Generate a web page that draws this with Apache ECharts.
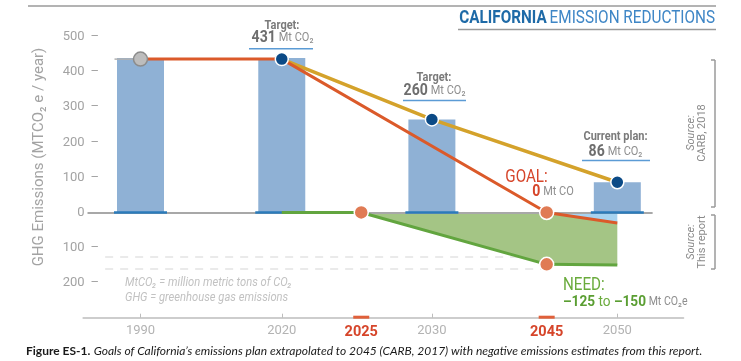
<!DOCTYPE html>
<html><head><meta charset="utf-8">
<script src="https://cdn.jsdelivr.net/npm/echarts@6/dist/echarts.min.js"></script>
<style>html,body{margin:0;padding:0;background:#fff}#c{width:741px;height:361px}</style>
</head><body><div id="c"></div>
<script>
// ---- data ----
const tickYears = ['1990', '2020', '2025', '2030', '2045', '2050'];
const highlightYears = ['2025', '2045'];
const barYears = ['1990', '2020', '2030', '2050'];
const barValues = [440, 440, 265, 86];
const goalYears = ['1990', '2020', '2045', '2050'];
const goalValues = [437, 437, 0, -30];
const planYears = ['2020', '2030', '2050'];
const planValues = [437, 265, 86];
const needYears = ['2020', '2025', '2045', '2050'];
const needValues = [0, 0, -148, -150];
const refLineValues = [-126, -160];
const yMin = -300, yMax = 500, yStep = 100;
// warped time axis: slot index of each tick year (axis is not linear in time)
const yearSlots = [6, 22, 31, 39, 52, 60];
const slotCount = 68;

// ---- build ----
const F = 'Roboto';
const categories = new Array(slotCount).fill('');
tickYears.forEach((y, i) => { categories[yearSlots[i]] = y; });
const ix = y => yearSlots[tickYears.indexOf(y)];

const MK = {
  navy: { size: 13, style: { color: '#0b4a86', borderColor: '#fff', borderWidth: 1.5 } },
  orange: { size: 14, style: { color: '#e07b54', borderColor: '#fff', borderWidth: 1.5 } },
  grey: { size: 14, style: { color: '#bdbdbd', borderColor: '#8c8c8c', borderWidth: 1.5 } }
};
function lineData(years, vals, markers) {
  const arr = new Array(slotCount).fill('-');
  years.forEach((y, i) => {
    const m = markers[y] ? MK[markers[y]] : null;
    arr[ix(y)] = m ? { value: vals[i], symbol: 'circle', symbolSize: m.size, itemStyle: m.style }
                   : { value: vals[i], symbol: 'none' };
  });
  return arr;
}
const barData = new Array(slotCount).fill('-');
barYears.forEach((y, i) => { barData[ix(y)] = barValues[i]; });

const gText = (x, y, text, rich, opt) => Object.assign({
  type: 'text', x, y, scaleX: 0.88, silent: true,
  style: { text, align: 'center', verticalAlign: 'middle', rich }
}, opt || {});
const gLine = (x1, y1, x2, y2, stroke, w) => ({
  type: 'line', silent: true, shape: { x1, y1, x2, y2 }, style: { stroke, lineWidth: w || 1.5 }
});
const annRich = {
  t: { fontFamily: F, fontSize: 12.5, fontWeight: 'bold', fill: '#7a7a7a', color: '#7a7a7a' },
  b: { fontFamily: F, fontSize: 16, fontWeight: 'bold', fill: '#6e6e6e', color: '#6e6e6e' },
  u: { fontFamily: F, fontSize: 12.5, fill: '#8e8e8e', color: '#8e8e8e' }
};

const chart = echarts.init(document.getElementById('c'));
chart.setOption({
  animation: false,
  backgroundColor: '#fff',
  textStyle: { fontFamily: F },
  grid: { left: 83.1, right: 57.46, top: 37, bottom: 43.3, containLabel: false },
  xAxis: {
    type: 'category', data: categories, boundaryGap: true,
    axisLine: { onZero: false, lineStyle: { color: '#bdbdbd', width: 1.5 } },
    axisTick: { show: true, inside: true, length: 4, alignWithLabel: true,
      interval: (i, v) => v !== '' && !highlightYears.includes(v),
      lineStyle: { color: '#bdbdbd', width: 1 } },
    axisLabel: { interval: 0, margin: 7,
      formatter: v => v === '' ? '' : (highlightYears.includes(v) ? '{h|' + v + '}' : '{n|' + v + '}'),
      rich: { n: { fontFamily: F, fontSize: 13, color: '#b3b3b3' },
              h: { fontFamily: F, fontSize: 14.5, fontWeight: 'bold', color: '#d6452a' } } },
    splitLine: { show: false }
  },
  yAxis: {
    type: 'value', min: yMin, max: yMax, interval: yStep, offset: -16,
    axisLine: { show: false }, axisTick: { show: false }, splitLine: { show: false },
    axisLabel: { margin: 0,
      formatter: v => v === yMin ? '' : (v === 0 ? '{n|0}{h|–}' : '{n|' + Math.abs(v) + '}{d|–}'),
      rich: { n: { fontFamily: F, fontSize: 13, color: '#a3a3a3' },
              d: { fontFamily: F, fontSize: 13, color: '#a3a3a3', padding: [0, 0, 0, 6] },
              h: { fontFamily: F, fontSize: 13, color: 'rgba(0,0,0,0)', padding: [0, 0, 0, 6] } } }
  },
  series: [
    { type: 'bar', z: 2, data: barData, barWidth: 47, silent: true,
      itemStyle: { color: '#8fb1d5' },
      markLine: { z: 2, silent: true, symbol: 'none', label: { show: false },
        lineStyle: { color: '#e3e3e3', width: 1.5, type: [8, 7] },
        data: refLineValues.map(v => [{ coord: [2, v] }, { coord: [ix('2045'), v] }]) } },
    { type: 'custom', z: 3, silent: true, data: [[ix('2025'), 0]],
      renderItem: (p, api) => {
        const pt = (y, v) => api.coord([ix(y), v]);
        const gi = y => goalValues[goalYears.indexOf(y)];
        const ni = y => needValues[needYears.indexOf(y)];
        const green = [pt('2025', 0), pt('2045', 0), pt('2050', gi('2050')), pt('2050', ni('2050')), pt('2045', ni('2045'))];
        const blue = [pt('2045', 0), pt('2050', 0), pt('2050', gi('2050'))];
        return { type: 'group', children: [
          { type: 'polygon', shape: { points: green }, style: { fill: '#a4c585' } },
          { type: 'polygon', shape: { points: blue }, style: { fill: '#a7d3f0' } }] };
      } },
    { type: 'custom', z: 4, silent: true, data: barYears.map(y => [ix(y), 0]),
      renderItem: (p, api) => {
        const c = api.coord([api.value(0), 0]);
        return { type: 'line', shape: { x1: c[0] - 26.5, y1: c[1], x2: c[0] + 26.5, y2: c[1] },
                 style: { stroke: '#2b7bba', lineWidth: 2.5 } };
      },
      markLine: { z: 4, silent: true, symbol: 'none', label: { show: false },
        lineStyle: { color: '#a8a8a8', width: 2, type: 'solid' },
        data: [[{ coord: [0, 0] }, { coord: [64, 0] }]] } },
    { type: 'custom', z: 4, silent: true, data: [[ix(goalYears[0]), goalValues[0]]],
      renderItem: (p, api) => {
        const c = api.coord([api.value(0), api.value(1)]);
        return { type: 'line', shape: { x1: c[0] - 26, y1: c[1], x2: c[0], y2: c[1] },
                 style: { stroke: '#b0b0b0', lineWidth: 1.5 } };
      } },
    { type: 'line', z: 5, silent: true, connectNulls: true, showAllSymbol: true, symbol: 'none',
      data: lineData(planYears, planValues, { '2030': 'navy', '2050': 'navy' }),
      lineStyle: { color: '#d4a22b', width: 3.5 } },
    { type: 'line', z: 5, silent: true, connectNulls: true, showAllSymbol: true, symbol: 'none',
      data: lineData(needYears, needValues, { '2025': 'orange', '2045': 'orange' }),
      lineStyle: { color: '#62a53f', width: 3 } },
    { type: 'line', z: 5, silent: true, connectNulls: true, showAllSymbol: true, symbol: 'none',
      data: lineData(goalYears, goalValues, { '1990': 'grey', '2020': 'navy', '2045': 'orange' }),
      lineStyle: { color: '#db5a2a', width: 3 } },
    { type: 'custom', z: 6, silent: true, data: highlightYears.map(y => [ix(y), yMin]),
      renderItem: (p, api) => {
        const c = api.coord([api.value(0), yMin]);
        return { type: 'rect', shape: { x: c[0] - 8, y: c[1] - 2, width: 16, height: 3 },
                 style: { fill: '#e0603a' } };
      } }
  ],
  graphic: [
    gLine(28, 6, 716, 6, '#9a9a9a', 1.5),
    gLine(458, 29.5, 716, 29.5, '#9a9a9a', 1.5),
    { type: 'text', x: 715, y: 18, scaleX: 0.85, silent: true,
      style: { text: '{b|CALIFORNIA} {r|EMISSION REDUCTIONS}', align: 'right', verticalAlign: 'middle',
        rich: { b: { fontFamily: F, fontSize: 18, fontWeight: 'bold', fill: '#1e6aa7', color: '#1e6aa7' },
                r: { fontFamily: F, fontSize: 18, fill: '#3e86c6', color: '#3e86c6' } } } },
    { type: 'text', x: 39, y: 157, rotation: Math.PI / 2, silent: true,
      style: { text: 'GHG Emissions (MTCO₂ e / year)', align: 'center', verticalAlign: 'middle',
        fontFamily: F, fontSize: 15, fill: '#a3a3a3' } },
    // annotations
    gText(282, 26, '{t|Target:}', annRich),
    gText(282.5, 37.7, '{b|431} {u|Mt CO₂}', annRich),
    gLine(249, 48.7, 313, 48.7, '#5b9bd5', 1.5),
    gText(434, 78, '{t|Target:}', annRich),
    gText(434.5, 90.7, '{b|260} {u|Mt CO₂}', annRich),
    gLine(403, 100.5, 466, 100.5, '#5b9bd5', 1.5),
    gText(615.5, 136.7, '{t|Current plan:}', annRich),
    gText(615.5, 151.7, '{b|86} {u|Mt CO₂}', annRich),
    gLine(582, 160.5, 650, 160.5, '#5b9bd5', 1.5),
    gText(526.5, 177, 'GOAL:', null, { scaleX: 0.8,
      style: { text: 'GOAL:', align: 'center', verticalAlign: 'middle', fontFamily: F, fontSize: 19, fill: '#d6452a' } }),
    gText(553, 192, '{r|0} {u|Mt CO}', {
      r: { fontFamily: F, fontSize: 16, fontWeight: 'bold', fill: '#d6452a', color: '#d6452a' },
      u: { fontFamily: F, fontSize: 12.5, fill: '#8e8e8e', color: '#8e8e8e' } }),
    { type: 'text', x: 563, y: 285, scaleX: 0.8, silent: true,
      style: { text: 'NEED:', align: 'left', verticalAlign: 'middle', fontFamily: F, fontSize: 19, fill: '#6aab3c' } },
    { type: 'text', x: 563, y: 302, scaleX: 0.88, silent: true,
      style: { text: '{g|–125}{s| to }{g|–150}{u| Mt CO₂e}', align: 'left', verticalAlign: 'middle',
        rich: { g: { fontFamily: F, fontSize: 15.5, fontWeight: 'bold', fill: '#5a9e32', color: '#5a9e32' },
                s: { fontFamily: F, fontSize: 15.5, fill: '#6aab3c', color: '#6aab3c' },
                u: { fontFamily: F, fontSize: 12, fill: '#8e8e8e', color: '#8e8e8e' } } } },
    { type: 'text', x: 125, y: 283, scaleX: 0.86, silent: true,
      style: { text: 'MtCO₂ = million metric tons of CO₂', align: 'left', verticalAlign: 'middle',
        fontFamily: F, fontSize: 13, fontStyle: 'italic', fill: '#c2c2c2' } },
    { type: 'text', x: 125, y: 298, scaleX: 0.86, silent: true,
      style: { text: 'GHG = greenhouse gas emissions', align: 'left', verticalAlign: 'middle',
        fontFamily: F, fontSize: 13, fontStyle: 'italic', fill: '#c2c2c2' } },
    // sources
    gLine(715, 60, 715, 207, '#9a9a9a', 1.5),
    gLine(711, 60, 715, 60, '#9a9a9a', 1.5),
    gLine(711, 207, 715, 207, '#9a9a9a', 1.5),
    gLine(715, 215, 715, 269, '#9a9a9a', 1.5),
    gLine(711, 215, 715, 215, '#9a9a9a', 1.5),
    gLine(711, 269, 715, 269, '#9a9a9a', 1.5),
    { type: 'text', x: 697, y: 133, rotation: Math.PI / 2, silent: true,
      style: { text: '{i|Source:}\n{n|CARB, 2018}', align: 'center', verticalAlign: 'middle',
        rich: { i: { fontFamily: F, fontSize: 11, fontStyle: 'italic', fill: '#8a8a8a', color: '#8a8a8a', lineHeight: 11 },
                n: { fontFamily: F, fontSize: 11, fill: '#8a8a8a', color: '#8a8a8a', lineHeight: 11 } } } },
    { type: 'text', x: 697, y: 242, rotation: Math.PI / 2, silent: true,
      style: { text: '{i|Source:}\n{n|This report}', align: 'center', verticalAlign: 'middle',
        rich: { i: { fontFamily: F, fontSize: 11, fontStyle: 'italic', fill: '#8a8a8a', color: '#8a8a8a', lineHeight: 11 },
                n: { fontFamily: F, fontSize: 11, fill: '#8a8a8a', color: '#8a8a8a', lineHeight: 11 } } } },
    // caption
    { type: 'text', x: 26, y: 351, silent: true,
      style: { text: '{b|Figure ES-1.} {i|Goals of California’s emissions plan extrapolated to 2045 (CARB, 2017) with negative emissions estimates from this report.}',
        align: 'left', verticalAlign: 'middle',
        rich: { b: { fontFamily: 'Lato', fontSize: 12, fontWeight: 'bold', fill: '#1a1a1a', color: '#1a1a1a' },
                i: { fontFamily: 'Lato', fontSize: 12, fontStyle: 'italic', fill: '#1a1a1a', color: '#1a1a1a' } } } }
  ]
});
</script>
</body></html>
